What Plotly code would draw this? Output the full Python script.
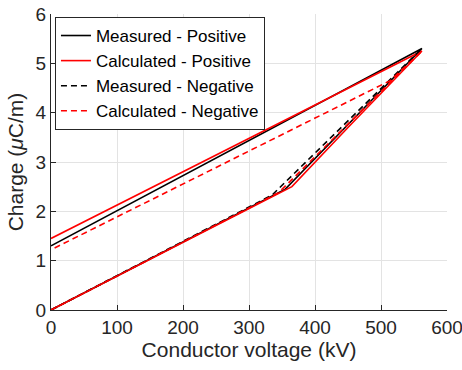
import plotly.graph_objects as go

# Data (voltage in kV, charge in uC/m)
meas_pos_x = [0, 355, 562, 0]
meas_pos_y = [0, 2.45, 5.30, 1.30]

calc_pos_x = [0, 365, 450, 562, 0]
calc_pos_y = [0, 2.50, 3.70, 5.25, 1.45]

meas_neg_x = [0, 335, 562]
meas_neg_y = [0, 2.33, 5.30]

calc_neg_x = [0, 345, 562, 514, 0]
calc_neg_y = [0, 2.38, 5.25, 4.65, 1.22]

x_ticks = [0, 100, 200, 300, 400, 500, 600]
y_ticks = [0, 1, 2, 3, 4, 5, 6]

series = [
    ("Measured - Positive", meas_pos_x, meas_pos_y, "black", "solid"),
    ("Calculated - Positive", calc_pos_x, calc_pos_y, "#ff0000", "solid"),
    ("Measured - Negative", meas_neg_x, meas_neg_y, "black", "6px,4px"),
    ("Calculated - Negative", calc_neg_x, calc_neg_y, "#ff0000", "6px,4px"),
]

fig = go.Figure()
for name, xs, ys, col, dash in series:
    fig.add_trace(go.Scatter(x=xs, y=ys, mode="lines", name=name,
                             line=dict(color=col, width=1.6, dash=dash)))

axis_common = dict(
    showgrid=True, gridcolor="#e3e3e3", gridwidth=1,
    showline=True, linecolor="#262626", linewidth=1,
    ticks="inside", ticklen=5, tickcolor="#262626",
    tickfont=dict(family="Liberation Sans, Arial", size=19, color="#262626"),
    zeroline=False, mirror=False, automargin=False,
    ticklabeloverflow="allow",
)

fig.update_layout(
    width=462, height=370,
    margin=dict(l=51, r=15, t=14, b=60),
    paper_bgcolor="white", plot_bgcolor="white",
    font=dict(family="Liberation Sans, Arial", color="#262626"),
    xaxis=dict(range=[0, 600], tickvals=x_ticks,
               title=dict(text="Conductor voltage (kV)", font=dict(size=21), standoff=1),
               **axis_common),
    yaxis=dict(range=[0, 6], tickvals=y_ticks,
               title=dict(text="Charge (<i>μ</i>C/m)", font=dict(size=21), standoff=6),
               **axis_common),
    legend=dict(x=0.01, y=0.99, xanchor="left", yanchor="top",
                bgcolor="white", bordercolor="#262626", borderwidth=1,
                font=dict(size=17, color="black"), tracegroupgap=0,
                itemwidth=30),
    showlegend=True,
)

fig.write_html("out.html")
